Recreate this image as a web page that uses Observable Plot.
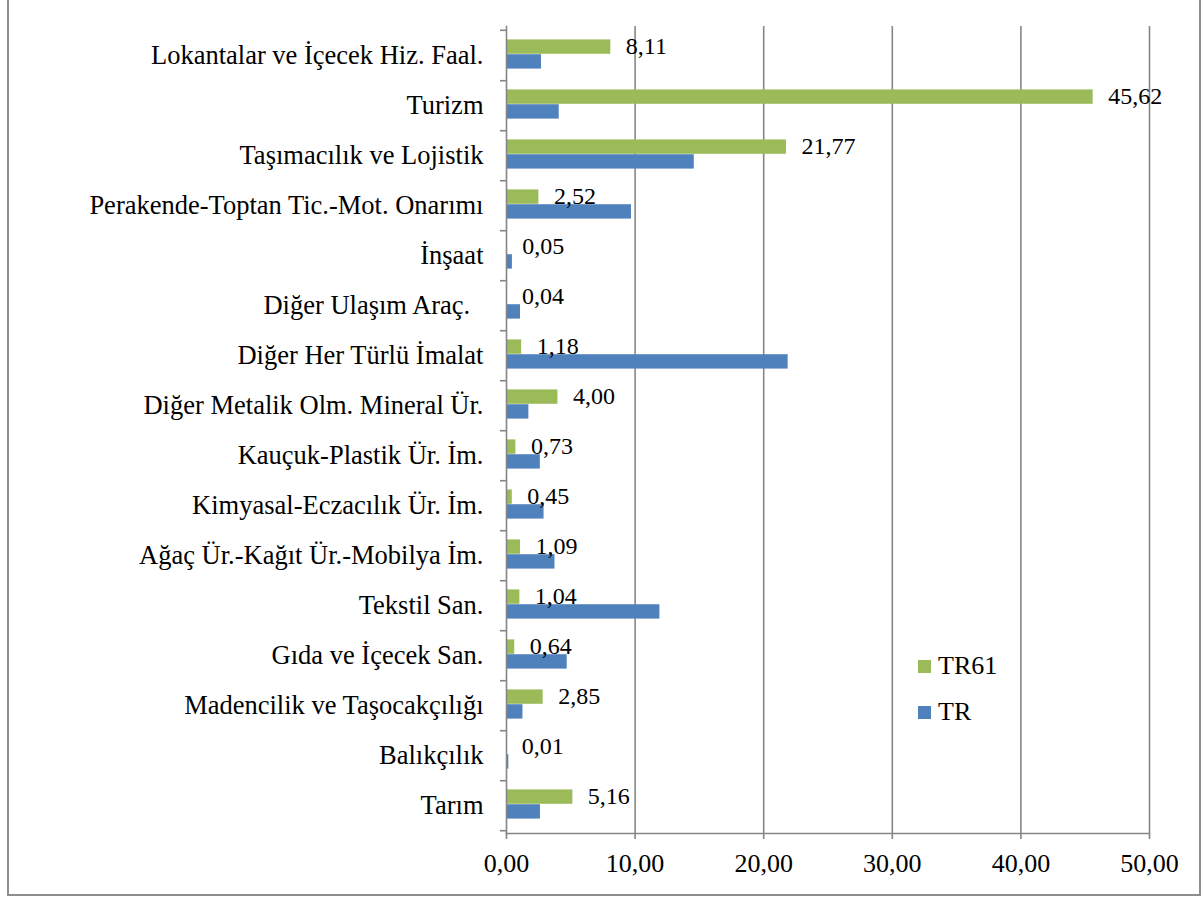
<!DOCTYPE html>
<html>
<head>
<meta charset="utf-8">
<script src="https://cdn.jsdelivr.net/npm/d3@7"></script>
<script src="https://cdn.jsdelivr.net/npm/@observablehq/plot@0.6"></script>
<style>
  html, body { margin: 0; padding: 0; background: #fff; overflow: hidden; }
  #wrap { position: relative; width: 1201px; height: 897px; font-family: "Liberation Serif", "Times New Roman", serif; }
  #border { position: absolute; left: 7px; top: -10px; width: 1194px; height: 906px; box-sizing: border-box; border: 2px solid #8d8d8d; pointer-events: none; }
  .leg { position: absolute; display: flex; align-items: center; font-size: 26px; color: #000; }
  .sw { width: 13px; height: 13px; margin-right: 7px; }
</style>
</head>
<body>
<div id="wrap">
  <div id="chart"></div>
  <div id="border"></div>
</div>
<script>
const categories = [
  "Tarım",
  "Balıkçılık",
  "Madencilik ve Taşocakçılığı",
  "Gıda ve İçecek San.",
  "Tekstil San.",
  "Ağaç Ür.-Kağıt Ür.-Mobilya İm.",
  "Kimyasal-Eczacılık Ür. İm.",
  "Kauçuk-Plastik Ür. İm.",
  "Diğer Metalik Olm. Mineral Ür.",
  "Diğer Her Türlü İmalat",
  "Diğer Ulaşım Araç.\u00a0\u00a0",
  "İnşaat",
  "Perakende-Toptan Tic.-Mot. Onarımı",
  "Taşımacılık ve Lojistik",
  "Turizm",
  "Lokantalar ve İçecek Hiz. Faal."
];
const tr61 = [5.16, 0.01, 2.85, 0.64, 1.04, 1.09, 0.45, 0.73, 4.00, 1.18, 0.04, 0.05, 2.52, 21.77, 45.62, 8.11];
const tr   = [2.64, 0.18, 1.28, 4.72, 11.93, 3.77, 2.92, 2.63, 1.74, 21.9, 1.09, 0.46, 9.72, 14.6, 4.1, 2.72];
const seriesNames = ["TR61", "TR"];
const seriesColors = ["#9BBB59", "#4F81BD"];
const xTicks = [0, 10, 20, 30, 40, 50];

const dataTR61 = categories.map((c, i) => ({cat: c, value: tr61[i]}));
const dataTR = categories.map((c, i) => ({cat: c, value: tr[i]}));
const fmt = d => d.toFixed(2).replace(".", ",");

const W = 1201, H = 897;
const mTop = 26, mBottom = 64, mLeft = 506, mRight = 52;
const band = (H - mTop - mBottom) / categories.length;
const barH = 14.8;
const pad = (band - 2 * barH) / 2 - 1;
const grey = "#868686";

const plot = Plot.plot({
  width: W,
  height: H,
  marginTop: mTop,
  marginBottom: mBottom,
  marginLeft: mLeft,
  marginRight: mRight,
  style: {fontFamily: "'Liberation Serif', 'Times New Roman', serif", fontSize: "25px", color: "#000", background: "transparent"},
  x: {domain: [0, 50], ticks: xTicks, tickFormat: fmt},
  y: {domain: categories.slice().reverse(), padding: 0},
  marks: [
    Plot.gridX(xTicks.slice(1), {stroke: grey, strokeOpacity: 1, strokeWidth: 1.6}),
    Plot.barX(dataTR61, {x: "value", y: "cat", fill: seriesColors[0], insetTop: pad, insetBottom: band - pad - barH}),
    Plot.barX(dataTR, {x: "value", y: "cat", fill: seriesColors[1], insetTop: pad + barH, insetBottom: band - pad - 2 * barH}),
    Plot.text(dataTR61, {x: "value", y: "cat", text: d => fmt(d.value), dx: 15, dy: -(band / 2 - pad - barH / 2) - 1, textAnchor: "start", fontSize: 24, fill: "#000"}),
    Plot.frame({anchor: "left", stroke: grey, strokeWidth: 1.6}),
    Plot.frame({anchor: "bottom", stroke: grey, strokeWidth: 1.6}),
    Plot.axisY({tickSize: 0, tickPadding: 23, fontSize: 26.5, label: null, fill: "#000"}),
    Plot.axisY({text: null, label: null, tickSize: 6, dy: band / 2, stroke: grey, strokeWidth: 1.6}),
    Plot.axisY({ticks: [categories[categories.length - 1]], text: null, label: null, tickSize: 6, dy: -band / 2, stroke: grey, strokeWidth: 1.6}),
    Plot.axisX({ticks: xTicks, tickFormat: fmt, tickSize: 6, tickPadding: 14, stroke: grey, strokeWidth: 1.6, fontSize: 26, label: null, fill: "#000"})
  ]
});
document.getElementById("chart").appendChild(plot);

// legend
const legendPos = [{left: 918, top: 651}, {left: 918, top: 697}];
seriesNames.forEach((name, i) => {
  const el = document.createElement("div");
  el.className = "leg";
  el.style.left = legendPos[i].left + "px";
  el.style.top = legendPos[i].top + "px";
  el.innerHTML = `<span class="sw" style="background:${seriesColors[i]}"></span><span>${name}</span>`;
  document.getElementById("wrap").appendChild(el);
});
</script>
</body>
</html>
